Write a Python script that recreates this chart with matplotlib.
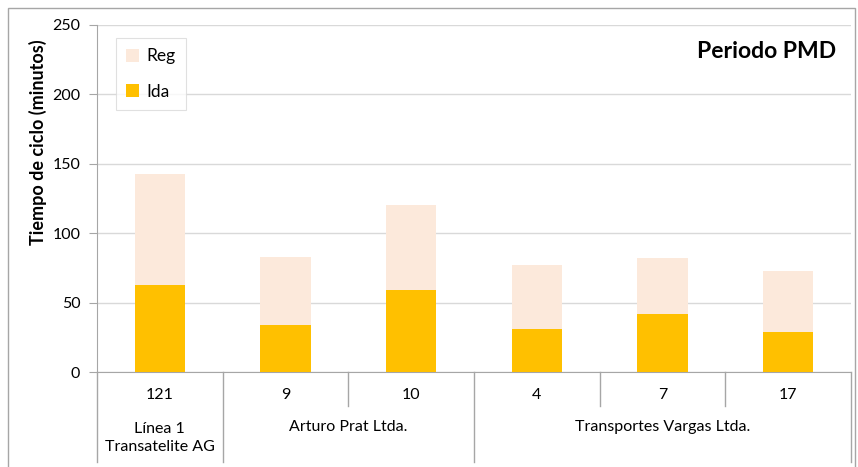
import matplotlib
matplotlib.use("Agg")
import matplotlib.pyplot as plt
import matplotlib.transforms as mtransforms
from matplotlib.patches import Rectangle

# datos
servicios = ["121", "9", "10", "4", "7", "17"]
ida = [63, 34, 59, 31, 42, 29]
reg = [80, 49, 61, 46, 40, 44]
empresas = ["Línea 1\nTransatelite AG", "Arturo Prat Ltda.", "Transportes Vargas Ltda."]
empresa_idx = [[0], [1, 2], [3, 4, 5]]

plt.rcParams['font.family'] = ['Lato', 'DejaVu Sans']

fig = plt.figure(figsize=(8.58, 4.67), dpi=100)
W, H = 858, 467
ax = fig.add_axes([97 / W, 1 - 372 / H, (851 - 97) / W, (372 - 25) / H])

x = list(range(len(servicios)))
ax.bar(x, ida, width=0.4, color="#FFC000", label="Ida", zorder=3)
ax.bar(x, reg, width=0.4, bottom=ida, color="#FCE9DB", label="Reg", zorder=3)

ax.set_xlim(-0.5, len(servicios) - 0.5)
ax.set_ylim(0, 250)
ax.set_yticks([0, 50, 100, 150, 200, 250])
ax.yaxis.grid(True, color="#D9D9D9", linewidth=1)
ax.set_axisbelow(True)
ax.tick_params(axis="y", labelsize=11.5, length=6, color="#A6A6A6", pad=6)
ax.set_xticks([])
for s in ["top", "right"]:
    ax.spines[s].set_visible(False)
ax.spines["left"].set_color("#A6A6A6")
ax.spines["bottom"].set_color("#A6A6A6")
ax.set_ylabel("Tiempo de ciclo (minutos)", fontsize=13, fontweight="bold")
ax.yaxis.set_label_coords((47 - 97) / 754, (372 - 142) / 347)

# etiquetas de categorias en dos niveles
trans = mtransforms.blended_transform_factory(ax.transData, ax.transAxes)
y_corto = (372 - 406) / 347
y_largo = (372 - 462) / 347
for i, s in enumerate(servicios):
    ax.text(i, (372 - 395) / 347, s, transform=trans, ha="center", va="center", fontsize=11.5)

bordes_grupo = [-0.5]
for idx in empresa_idx:
    bordes_grupo.append(idx[-1] + 0.5)
for b in [i + 0.5 for i in range(-1, len(servicios))]:
    y0 = y_largo if b in bordes_grupo else y_corto
    ax.plot([b, b], [0, y0], transform=trans, color="#A6A6A6", lw=1, clip_on=False)

for nombre, idx in zip(empresas, empresa_idx):
    cx = (idx[0] + idx[-1]) / 2
    if "\n" in nombre:
        ax.text(cx, (372 - 438) / 347, nombre, transform=trans, ha="center", va="center",
                fontsize=11.5, linespacing=1.45)
    else:
        ax.text(cx, (372 - 427) / 347, nombre, transform=trans, ha="center", va="center",
                fontsize=11.5)

# leyenda (Reg arriba)
h, l = ax.get_legend_handles_labels()
leg = ax.legend(h[::-1], l[::-1], loc="upper left", bbox_to_anchor=(0.025, 0.9625),
                fontsize=12.5, frameon=True, fancybox=False, edgecolor="#D9D9D9",
                handlelength=0.75, handleheight=0.75, handletextpad=0.4,
                labelspacing=1.1, borderpad=0.6, borderaxespad=0)
leg.get_frame().set_linewidth(0.8)

ax.text(0.98, 0.925, "Periodo PMD", transform=ax.transAxes, ha="right", va="center",
        fontsize=16.5, fontweight="bold")

# marco exterior
fig.patches.append(Rectangle((8 / W, -0.01), (855 - 8) / W, 1 - 8 / H + 0.01,
                             transform=fig.transFigure, fill=False,
                             edgecolor="#A6A6A6", lw=1))

fig.savefig("out.png", dpi=100)
